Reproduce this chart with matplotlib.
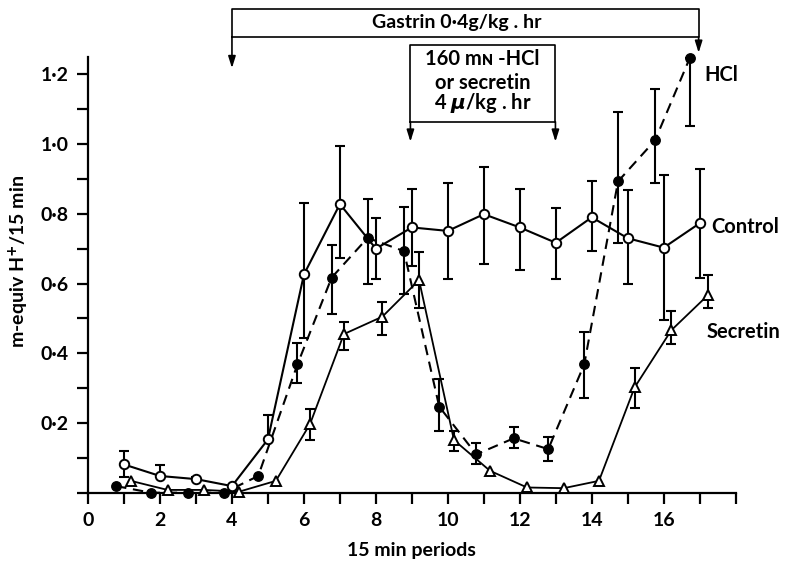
import numpy as np
import matplotlib
matplotlib.use("Agg")
import matplotlib.pyplot as plt
from matplotlib.ticker import FixedLocator, FuncFormatter

plt.rcParams['font.family'] = ['Lato', 'DejaVu Sans']
plt.rcParams['font.weight'] = 'bold'
plt.rcParams['mathtext.fontset'] = 'dejavusans'

# ---- data ----
ctrl_x = [1, 2, 3, 4, 5, 6, 7, 8, 9, 10, 11, 12, 13, 14, 15, 16, 17]
ctrl_y = [0.081, 0.048, 0.039, 0.019, 0.153, 0.626, 0.828, 0.700, 0.761, 0.751,
          0.799, 0.761, 0.717, 0.790, 0.730, 0.703, 0.773]
ctrl_hi = [0.040, 0.031, 0.006, 0.0, 0.070, 0.206, 0.167, 0.089, 0.109, 0.138,
           0.136, 0.109, 0.099, 0.104, 0.138, 0.208, 0.157]
ctrl_lo = [0.035, 0.0, 0.0, 0.0, 0.0, 0.182, 0.156, 0.087, 0.111, 0.139,
           0.143, 0.121, 0.104, 0.097, 0.132, 0.208, 0.158]

hcl_x = [0.78, 1.75, 2.79, 3.78, 4.73, 5.82, 6.77, 7.77, 8.78, 9.76, 10.79,
         11.83, 12.79, 13.79, 14.73, 15.76, 16.72]
hcl_y = [0.019, 0.0, 0.0, 0.0, 0.048, 0.368, 0.617, 0.731, 0.693, 0.247, 0.110,
         0.156, 0.125, 0.368, 0.893, 1.011, 1.246]
hcl_hi = [0, 0, 0, 0, 0, 0.062, 0.093, 0.111, 0.127, 0.078, 0.032, 0.033,
          0.035, 0.094, 0.200, 0.146, 0.0]
hcl_lo = [0, 0, 0, 0, 0, 0.053, 0.105, 0.133, 0.123, 0.070, 0.028, 0.029,
          0.034, 0.097, 0.178, 0.122, 0.194]

sec_x = [1.19, 2.21, 3.23, 4.20, 5.22, 6.17, 7.11, 8.18, 9.20, 10.17, 11.17,
         12.20, 13.22, 14.20, 15.19, 16.21, 17.23]
sec_y = [0.034, 0.008, 0.008, 0.003, 0.034, 0.197, 0.455, 0.505, 0.610, 0.151,
         0.063, 0.015, 0.013, 0.034, 0.302, 0.466, 0.567]
sec_hi = [0, 0, 0, 0, 0, 0.042, 0.035, 0.043, 0.081, 0.026, 0, 0, 0, 0,
          0.055, 0.054, 0.057]
sec_lo = [0, 0, 0, 0, 0, 0.046, 0.046, 0.053, 0.081, 0.031, 0, 0, 0, 0,
          0.058, 0.040, 0.038]

x_ticks = list(range(0, 19))
x_labels = [0, 2, 4, 6, 8, 10, 12, 14, 16]
y_ticks = [0.0, 0.1, 0.2, 0.3, 0.4, 0.5, 0.6, 0.7, 0.8, 0.9, 1.0, 1.1, 1.2]
y_labels = [0.2, 0.4, 0.6, 0.8, 1.0, 1.2]

# ---- figure ----
fig = plt.figure(figsize=(7.86, 5.64), dpi=100)
ax = fig.add_axes([0.112, 0.1264, 0.824, 0.7726])
ax.set_xlim(0, 18)
ax.set_ylim(0, 1.25)

lw = 1.5
cap = 3.3


def errs(x, y, lo, hi):
    x = np.asarray(x); y = np.asarray(y)
    lo = np.asarray(lo); hi = np.asarray(hi)
    m = (lo + hi) > 0
    ax.errorbar(x[m], y[m], yerr=[lo[m], hi[m]], fmt='none', ecolor='black',
                elinewidth=lw, capsize=cap, capthick=lw, zorder=2, clip_on=False)


errs(ctrl_x, ctrl_y, ctrl_lo, ctrl_hi)
errs(hcl_x, hcl_y, hcl_lo, hcl_hi)
errs(sec_x, sec_y, sec_lo, sec_hi)

ax.plot(ctrl_x, ctrl_y, '-', color='black', lw=lw, zorder=3, clip_on=False)
ax.plot(ctrl_x, ctrl_y, 'o', ms=6.8, mfc='white', mec='black', mew=1.4,
        zorder=5, clip_on=False)
ax.plot(hcl_x, hcl_y, '--', color='black', lw=lw, dashes=(5, 3.2), zorder=3,
        clip_on=False)
ax.plot(hcl_x, hcl_y, 'o', ms=6.8, mfc='black', mec='black', zorder=5,
        clip_on=False)
ax.plot(sec_x, sec_y, '-', color='black', lw=1.3, zorder=3, clip_on=False)
ax.plot(sec_x, sec_y, '^', ms=7.2, mfc='white', mec='black', mew=1.4, zorder=5,
        clip_on=False)

# ---- axes styling ----
for s in ['top', 'right']:
    ax.spines[s].set_visible(False)
for s in ['left', 'bottom']:
    ax.spines[s].set_linewidth(1.6)

ax.xaxis.set_major_locator(FixedLocator(x_ticks))
ax.yaxis.set_major_locator(FixedLocator(y_ticks))
ax.xaxis.set_major_formatter(FuncFormatter(
    lambda v, p: f"{int(round(v))}" if int(round(v)) in x_labels else ""))


def yfmt(v, p):
    for lab in y_labels:
        if abs(v - lab) < 1e-6:
            return f"{lab:.1f}".replace('.', '\u00b7')
    return ""


ax.yaxis.set_major_formatter(FuncFormatter(yfmt))
ax.tick_params(direction='out', length=8, width=1.6, labelsize=14, pad=6)

ax.set_xlabel('15 min periods', fontsize=14, fontweight='bold')
ax.set_ylabel('m-equiv H$^{+}$/15 min', fontsize=14, fontweight='bold')
ax.xaxis.set_label_coords(0.5, -0.113)
ax.yaxis.set_label_coords(-0.088, 0.53)

# ---- series labels ----
ax.text(17.14, 1.197, 'HCl', fontsize=14.5, va='center', ha='left')
ax.text(17.33, 0.763, 'Control', fontsize=14.5, va='center', ha='left')
ax.text(17.18, 0.462, 'Secretin', fontsize=14.5, va='center', ha='left')

# ---- annotation boxes ----
blw = 1.2
arrow_kw = dict(arrowstyle='-|>,head_length=0.7,head_width=0.22', color='black',
                lw=blw, shrinkA=0, shrinkB=0)

gx0, gx1, gy0, gy1 = 4.0, 16.97, 1.308, 1.387
ax.plot([gx0, gx1, gx1, gx0, gx0], [gy0, gy0, gy1, gy1, gy0], color='black',
        lw=blw, clip_on=False)
ax.annotate('', xy=(gx0, 1.218), xytext=(gx0, gy0), arrowprops=arrow_kw,
            annotation_clip=False)
ax.annotate('', xy=(gx1, 1.262), xytext=(gx1, gy0), arrowprops=arrow_kw,
            annotation_clip=False)
ax.text(10.24, (gy0 + gy1) / 2, 'Gastrin 0\u00b74g/kg . hr', fontsize=14,
        ha='center', va='center')

bx0, bx1, by0, by1 = 8.96, 12.99, 1.064, 1.284
ax.plot([bx0, bx0, bx1, bx1], [1.064, by1, by1, 1.064], color='black',
        lw=blw, clip_on=False)
ax.plot([bx0, bx1], [by0, by0], color='black', lw=blw, clip_on=False)
ax.annotate('', xy=(bx0, 1.007), xytext=(bx0, by0), arrowprops=arrow_kw,
            annotation_clip=False)
ax.annotate('', xy=(bx1, 1.007), xytext=(bx1, by0), arrowprops=arrow_kw,
            annotation_clip=False)
ax.text(10.97, 1.243, '160 m\u0274 -HCl', fontsize=14.5, ha='center', va='center')
ax.text(10.97, 1.176, 'or secretin', fontsize=14.5, ha='center', va='center')
ax.text(10.97, 1.118, '4 $\\mu$/kg . hr', fontsize=14.5, ha='center', va='center')

fig.savefig('out.png', dpi=100)
